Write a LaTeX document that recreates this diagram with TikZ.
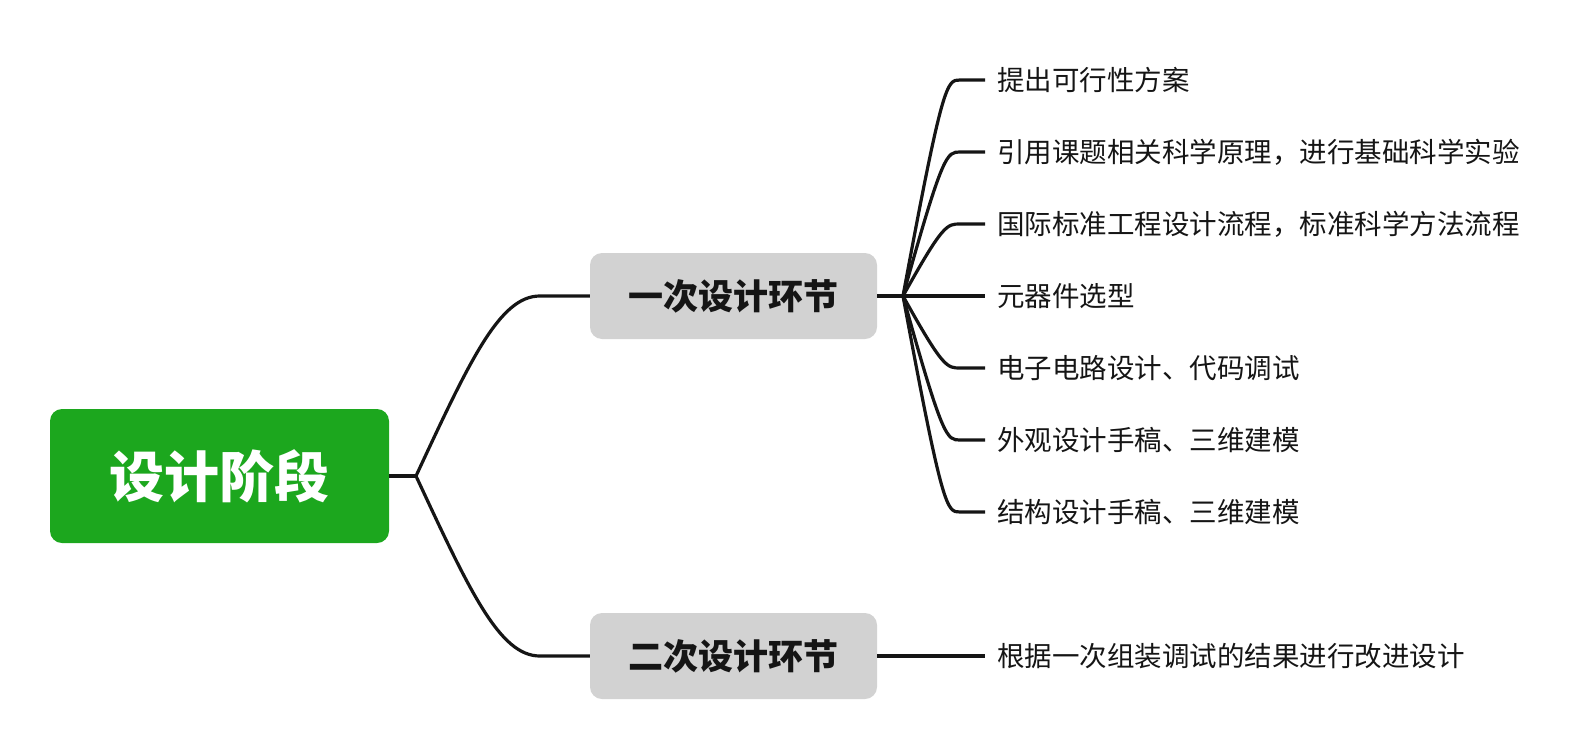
\documentclass[tikz,border=0pt]{standalone}
\usepackage{fontspec}
\newfontfamily\cjk{Noto Sans CJK SC}
\usetikzlibrary{calc}
\definecolor{rootgreen}{HTML}{1CA71E}
\definecolor{branchgray}{HTML}{D2D2D2}
\definecolor{ink}{HTML}{151515}
\begin{document}
\begin{tikzpicture}[x=1pt,y=-1pt,
  rootbox/.style={fill=rootgreen, rounded corners=12pt, minimum width=339pt, minimum height=134pt, inner sep=0pt, text=white, font=\cjk\bfseries\fontsize{55}{60}\selectfont},
  branchbox/.style={fill=branchgray, rounded corners=12pt, minimum width=287pt, minimum height=86pt, inner sep=0pt, text=ink, font=\cjk\bfseries\fontsize{35}{40}\selectfont},
  leaftext/.style={anchor=west, inner sep=0pt, inner xsep=12pt, text=ink, font=\cjk\fontsize{27.5}{30}\selectfont},
  link/.style={draw=ink, line width=3.2pt}
]
\useasboundingbox (0,0) rectangle (1588,750);

\node[rootbox] (root) at (219.5,476) {设计阶段};
\node[branchbox] (b1) at (733.5,296) {一次设计环节};
\node[branchbox] (b2) at (733.5,656) {二次设计环节};

\coordinate (j0) at (416,476);
\coordinate (j1) at (903,296);

\node[leaftext] (l1) at (985,80) {提出可行性方案};
\node[leaftext] (l2) at (985,152) {引用课题相关科学原理，进行基础科学实验};
\node[leaftext] (l3) at (985,224) {国际标准工程设计流程，标准科学方法流程};
\node[leaftext] (l4) at (985,296) {元器件选型};
\node[leaftext] (l5) at (985,368) {电子电路设计、代码调试};
\node[leaftext] (l6) at (985,440) {外观设计手稿、三维建模};
\node[leaftext] (l7) at (985,512) {结构设计手稿、三维建模};
\node[leaftext] (m1) at (985,656) {根据一次组装调试的结果进行改进设计};

\draw[link] (root.east) -- (j0);
\draw[link] (j0) .. controls +(54,-116) and ($(b1.west)+(-90,0)$) .. ($(b1.west)+(-50,0)$) -- (b1.west);
\draw[link] (j0) .. controls +(54,116) and ($(b2.west)+(-90,0)$) .. ($(b2.west)+(-50,0)$) -- (b2.west);

\draw[link] (b1.east) -- (j1);
\foreach \l in {l1,l2,l3,l5,l6,l7}{
  \draw[link] (j1) .. controls ($(\l.west)+(-42,0)$) and ($(\l.west)+(-38,0)$) .. ($(\l.west)+(-25,0)$) -- (\l.west);
}
\draw[link] (j1) -- (l4.west);
\draw[link] (b2.east) -- (m1.west);
\end{tikzpicture}
\end{document}
